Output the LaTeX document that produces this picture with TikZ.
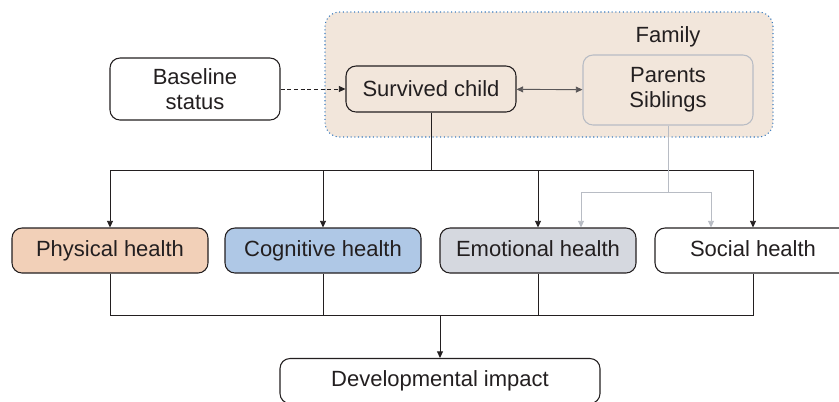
\documentclass[tikz,border=0pt]{standalone}
\usepackage{fontspec}
\setmainfont{Liberation Sans}
\usetikzlibrary{positioning}
\usetikzlibrary{arrows.meta}
\definecolor{famfill}{HTML}{F2E6DB}
\definecolor{famline}{HTML}{3A7CC0}
\definecolor{peach}{HTML}{F2D0B8}
\definecolor{skyblue}{HTML}{AFC8E6}
\definecolor{lightgrey}{HTML}{D5D8DF}
\definecolor{softgrey}{HTML}{B8BCC4}
\definecolor{ink}{HTML}{231F20}
\tikzstyle{box1} = [rectangle, rounded corners=7.5pt, minimum width=127.5pt, minimum height=46.5pt, align=center, draw=ink, fill=white, line width=0.8pt, text=ink]
\tikzstyle{box2} = [rectangle, rounded corners=7.5pt, minimum width=147pt, minimum height=33.75pt, text height=12pt, text depth=3.5pt, text centered, draw=ink, line width=0.8pt, text=ink]
\tikzstyle{line1} = [draw=ink, line width=0.7pt]
\tikzstyle{tip1} = [-{Triangle[length=5pt,width=4.5pt]}]

\begin{document}
\begin{tikzpicture}[x=0.75pt,y=-0.75pt,font=\fontsize{16.5}{19}\selectfont]
			\useasboundingbox (0,0) rectangle (839,401);
			\node[rectangle, rounded corners=11pt, minimum width=336pt, minimum height=93.75pt, fill=famfill, draw=famline, dotted, line width=0.8pt](family) at (549,74.5){};
			\node[text=ink](familylabel) at (668,37){Family};
			\node[box1](baseline) at (195,89){Baseline\\status};
			\node[box1, minimum height=34.5pt, fill=famfill](child) at (431,89){Survived child};
			\node[box1, minimum height=52.5pt, fill=famfill, draw=softgrey](parents) at (668,90){Parents\\Siblings};
			\node[box2, fill=peach](physical) at (110,250.5){Physical health};
			\node[box2, fill=skyblue](cognitive) at (323,250.5){Cognitive health};
			\node[box2, fill=lightgrey](emotional) at (538,250.5){Emotional health};
			\node[box2, fill=white](social) at (753,250.5){Social health};
			\node[box2, minimum width=240pt, fill=white](impact) at (440,381){Developmental impact};
			\coordinate (split) at (431,170);
			\coordinate (familysplit) at (668,192);
			\coordinate (merge) at (440,315);
			\draw[line1, tip1, dash pattern=on 3pt off 2pt] (baseline) -- (child);
			\draw[line1, {Triangle[length=5pt,width=4.5pt]}-{Triangle[length=5pt,width=4.5pt]}, draw=ink!75] (child) -- (parents);
			\draw[line1] (child) -- (split);
			\draw[line1, tip1] (split) -| (physical);
			\draw[line1, tip1] (split) -| (cognitive);
			\draw[line1, tip1] (split) -| (emotional);
			\draw[line1, tip1] (split) -| (social);
			\draw[line1, draw=softgrey] (parents) -- (familysplit);
			\draw[line1, tip1, draw=softgrey] (familysplit) -| ([xshift=32.25pt]emotional.north);
			\draw[line1, tip1, draw=softgrey] (familysplit) -| ([xshift=-31.5pt]social.north);
			\draw[line1] (physical) |- (merge);
			\draw[line1] (cognitive) |- (merge);
			\draw[line1] (emotional) |- (merge);
			\draw[line1] (social) |- (merge);
			\draw[line1, tip1] (merge) -- (impact);
		\end{tikzpicture}
\end{document}
